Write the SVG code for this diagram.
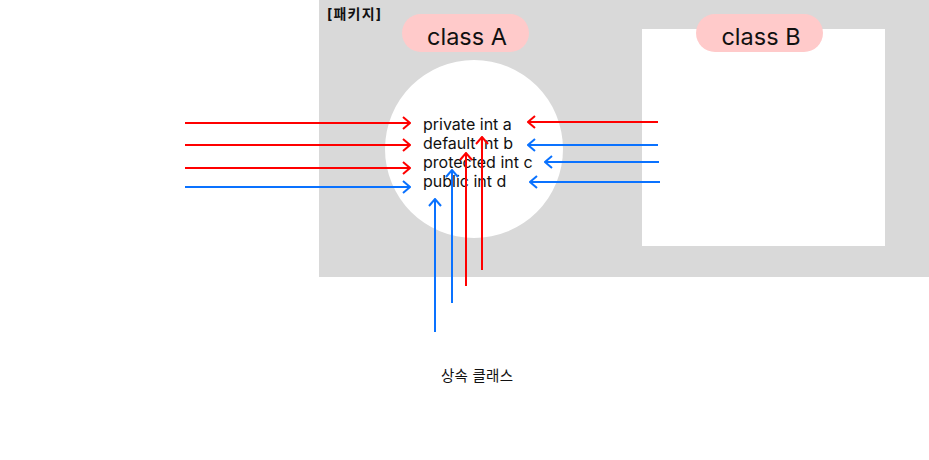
<svg xmlns="http://www.w3.org/2000/svg" width="929" height="460" viewBox="0 0 929 460">
<defs>
<style>
.t{font-family:Inter,"Noto Sans CJK KR",sans-serif;fill:#111}
.r{stroke:#ff0000;stroke-width:2;fill:none}
.b{stroke:#0a72ff;stroke-width:2;fill:none}
.pill{fill:#ffcaca}
</style>
<marker id="ar" viewBox="0 0 10 14" refX="9" refY="7" markerWidth="10" markerHeight="14" markerUnits="userSpaceOnUse" orient="auto"><path d="M2,1 L9,7 L2,13" fill="none" stroke="#ff0000" stroke-width="2"/></marker>
<marker id="ab" viewBox="0 0 10 14" refX="9" refY="7" markerWidth="10" markerHeight="14" markerUnits="userSpaceOnUse" orient="auto"><path d="M2,1 L9,7 L2,13" fill="none" stroke="#0a72ff" stroke-width="2"/></marker>
</defs>
<rect width="929" height="460" fill="#fff"/>
<g id="package">
<rect x="319" y="0" width="610" height="277" fill="#d9d9d9"/>
<text class="t" x="327" y="19" font-size="14" font-weight="bold" textLength="54">[패키지]</text>
</g>
<g id="classB">
<rect x="642" y="29" width="243" height="217" fill="#fff"/>
<rect class="pill" x="696" y="14" width="127" height="38" rx="19"/>
<text class="t" x="761" y="45" font-size="23.5" text-anchor="middle">class B</text>
</g>
<g id="classA">
<circle cx="474" cy="149" r="89" fill="#fff"/>
<rect class="pill" x="402" y="14" width="127" height="38" rx="19"/>
<text class="t" x="467" y="45" font-size="23.5" text-anchor="middle">class A</text>
<text class="t" x="423" y="130" font-size="16">private int a</text>
<text class="t" x="423" y="149" font-size="16">default int b</text>
<text class="t" x="423" y="168" font-size="16">protected int c</text>
<text class="t" x="423" y="187" font-size="16">public int d</text>
</g>
<g id="subclass">
<text class="t" x="441" y="381" font-size="14.5" textLength="72">상속 클래스</text>
</g>
<g id="connectors">
<line class="r" x1="185" y1="123" x2="410" y2="123" marker-end="url(#ar)"/>
<line class="r" x1="185" y1="145" x2="410" y2="145" marker-end="url(#ar)"/>
<line class="r" x1="185" y1="168" x2="410" y2="168" marker-end="url(#ar)"/>
<line class="b" x1="185" y1="187" x2="410" y2="187" marker-end="url(#ab)"/>
<line class="r" x1="658" y1="122" x2="528" y2="122" marker-end="url(#ar)"/>
<line class="b" x1="658" y1="145" x2="528" y2="145" marker-end="url(#ab)"/>
<line class="b" x1="659" y1="162" x2="545" y2="162" marker-end="url(#ab)"/>
<line class="b" x1="660" y1="182" x2="530" y2="182" marker-end="url(#ab)"/>
<line class="b" x1="435" y1="332" x2="435" y2="199" marker-end="url(#ab)"/>
<line class="b" x1="452" y1="303" x2="452" y2="170" marker-end="url(#ab)"/>
<line class="r" x1="466" y1="286" x2="466" y2="153" marker-end="url(#ar)"/>
<line class="r" x1="482" y1="270" x2="482" y2="137" marker-end="url(#ar)"/>
</g>
</svg>
